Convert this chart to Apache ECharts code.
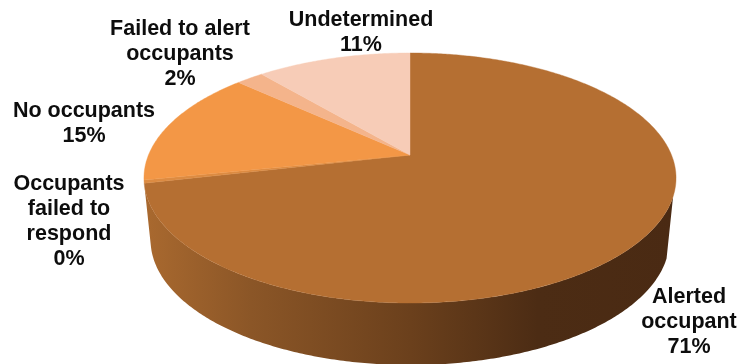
<!DOCTYPE html>
<html><head><meta charset="utf-8">
<style>html,body{margin:0;padding:0;background:#fff}#c{width:752px;height:364px}</style>
<script src="https://cdn.jsdelivr.net/npm/echarts@6/dist/echarts.min.js"></script>
</head><body><div id="c"></div>
<script>
const categories = ["Alerted\noccupant", "Occupants\nfailed to\nrespond", "No occupants", "Failed to alert\noccupants", "Undetermined"];
const shares = [71.4, 0.4, 15.0, 2.0, 11.2];
const colours = ["#b56f32", "#dc8b42", "#f39746", "#f4b48b", "#f7ccb7"];

const total = shares.reduce((a, b) => a + b, 0);
const TOP = {ax: 410, ay: 155, a: 261.5, b: 120.8};
const BOTTOM = {ax: 410, ay: 217, a: 255, b: 120.8};
const K = 0.184;
const LABEL_AT = [[689, 322], [69, 222], [84, 124], [180, 54], [361, 33]];

function project(rim, t) {
  const X = Math.sin(t), Y = Math.cos(t), w = 1 + K * Y;
  return [rim.ax + rim.a * X / w, rim.ay - rim.b * Y / w];
}
function arc(rim, t0, t1) {
  const n = Math.max(2, Math.ceil(Math.abs(t1 - t0) / 0.01)), out = [];
  for (let i = 0; i <= n; i++) out.push(project(rim, t0 + (t1 - t0) * i / n));
  return out;
}
const sideFill = {
  type: 'linear', x: 145, y: 0, x2: 676, y2: 0, global: true,
  colorStops: [
    {offset: 0, color: '#a9692f'}, {offset: 0.2, color: '#8b5627'},
    {offset: 0.5, color: '#6b401c'}, {offset: 0.74, color: '#4c2c14'}, {offset: 1, color: '#4a2a13'}
  ]
};
function renderItem(params, api) {
  const i = params.dataIndex;
  const before = shares.slice(0, i).reduce((a, b) => a + b, 0);
  const t0 = before / total * 2 * Math.PI;
  const t1 = (before + api.value(0)) / total * 2 * Math.PI;
  const children = [];
  if (i === 0) {
    const side = arc(TOP, 1.9, t1).concat(arc(BOTTOM, t1, 1.9));
    children.push({type: 'polygon', shape: {points: side}, style: {fill: sideFill}});
  }
  children.push({
    type: 'polygon',
    shape: {points: [[TOP.ax, TOP.ay]].concat(arc(TOP, t0, t1))},
    style: {fill: colours[i], stroke: colours[i], lineWidth: 0.4}
  });
  children.push({
    type: 'text', z2: 50, x: LABEL_AT[i][0], y: LABEL_AT[i][1],
    style: {
      text: categories[i] + '\n' + Math.round(api.value(0)) + '%',
      fill: '#0d0d0d', align: 'center', verticalAlign: 'middle',
      font: 'bold 21.5px "Liberation Sans", Arial, sans-serif', lineHeight: 25
    }
  });
  return {type: 'group', children};
}
const chart = echarts.init(document.getElementById('c'), null, {width: 752, height: 364});
chart.setOption({
  animation: false,
  backgroundColor: '#ffffff',
  series: [{
    type: 'custom', coordinateSystem: 'none', renderItem,
    clip: false, silent: true,
    data: shares.map((v, i) => ({name: categories[i], value: [v]}))
  }]
});
</script></body></html>
